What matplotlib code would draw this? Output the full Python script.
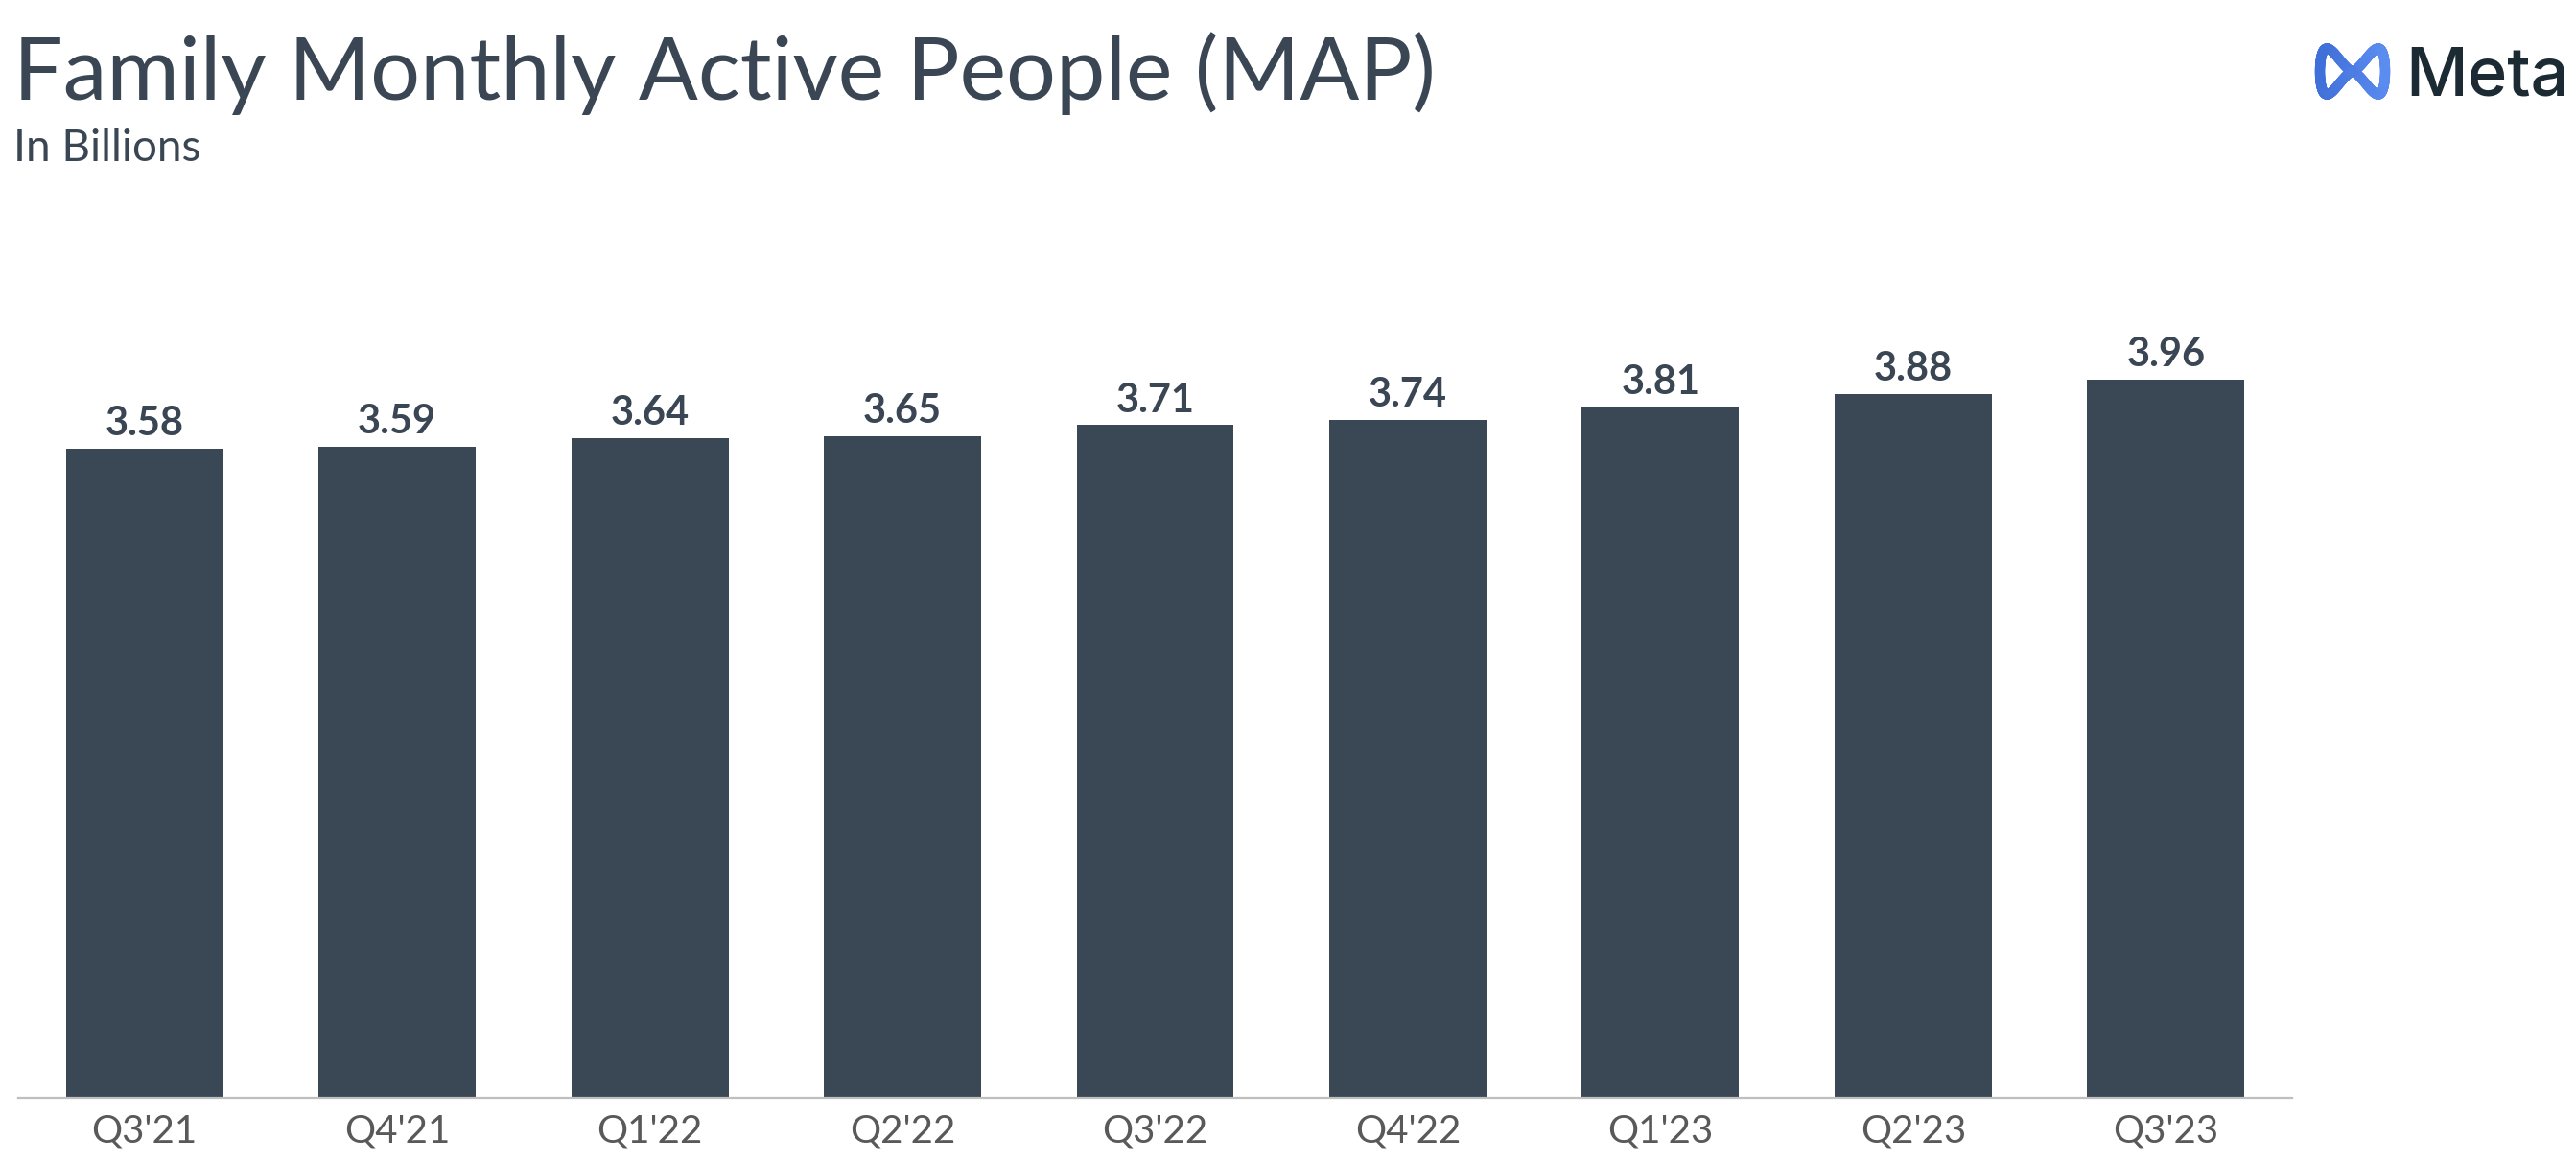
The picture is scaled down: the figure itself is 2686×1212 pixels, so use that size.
import numpy as np
import matplotlib.pyplot as plt
from matplotlib.collections import LineCollection

# DATA
quarters = ["Q3'21", "Q4'21", "Q1'22", "Q2'22", "Q3'22", "Q4'22", "Q1'23", "Q2'23", "Q3'23"]
map_billions = [3.58, 3.59, 3.64, 3.65, 3.71, 3.74, 3.81, 3.88, 3.96]

BAR_COLOR = '#3a4755'
TEXT_COLOR = '#3a4654'
TICK_COLOR = '#595959'
FONT = ['Lato', 'DejaVu Sans']

W, H, DPI = 2686, 1212, 100
fig = plt.figure(figsize=(W / DPI, H / DPI), dpi=DPI)

# main chart axes (bottom at the grey baseline)
ax_h = 0.70
ax = fig.add_axes([19 / W, 1 - 1145 / H, (2390 - 19) / W, ax_h])
x = np.arange(len(quarters))
bars = ax.bar(x, map_billions, width=0.622, color=BAR_COLOR)
ax.set_xlim(-0.5, len(quarters) - 0.5)
ax.set_ylim(0, ax_h * H / 189.1)

for rect, v in zip(bars, map_billions):
    ax.annotate(f'{v:.2f}', (rect.get_x() + rect.get_width() / 2, v),
                xytext=(0, 10), textcoords='offset points',
                ha='center', va='baseline', fontsize=30, fontweight='bold',
                color=TEXT_COLOR, family=FONT)

ax.set_xticks(x)
ax.set_xticklabels(quarters, fontsize=29, color=TICK_COLOR, family=FONT)
ax.tick_params(axis='x', length=0, pad=12)
ax.set_yticks([])
for side in ['top', 'right', 'left']:
    ax.spines[side].set_visible(False)
ax.spines['bottom'].set_color('#bfbfbf')
ax.spines['bottom'].set_linewidth(1.6)

# title block
fig.text(14 / W, 1 - 104 / H, 'Family Monthly Active People (MAP)', fontsize=66,
         color=TEXT_COLOR, family=FONT, ha='left', va='baseline')
fig.text(14 / W, 1 - 168 / H, 'In Billions', fontsize=33,
         color=TEXT_COLOR, family=FONT, ha='left', va='baseline')

# Meta logo: infinity mark + wordmark
ax_logo = fig.add_axes([0, 0, 1, 1])
ax_logo.set_xlim(0, W)
ax_logo.set_ylim(H, 0)
ax_logo.axis('off')
t = np.linspace(0, 2 * np.pi, 400)
s = np.sin(t)
lx = 2453 + 34 * np.sign(s) * np.abs(s) ** 0.7
ly = 74.5 - 24 * np.sin(2 * t)
pts = np.column_stack([lx, ly]).reshape(-1, 1, 2)
segs = np.concatenate([pts[:-1], pts[1:]], axis=1)
lc = LineCollection(segs, cmap=plt.matplotlib.colors.LinearSegmentedColormap.from_list(
    'meta', ['#3f6fd8', '#5b8cf0']), linewidths=7.5, capstyle='round')
lc.set_array(lx[:-1])
ax_logo.add_collection(lc)
fig.text(2508 / W, 1 - 100 / H, 'Meta', fontsize=51, color='#1c2b33',
         family=['Inter', 'DejaVu Sans'], fontweight='medium', ha='left', va='baseline')

fig.savefig('out.png', dpi=DPI)
